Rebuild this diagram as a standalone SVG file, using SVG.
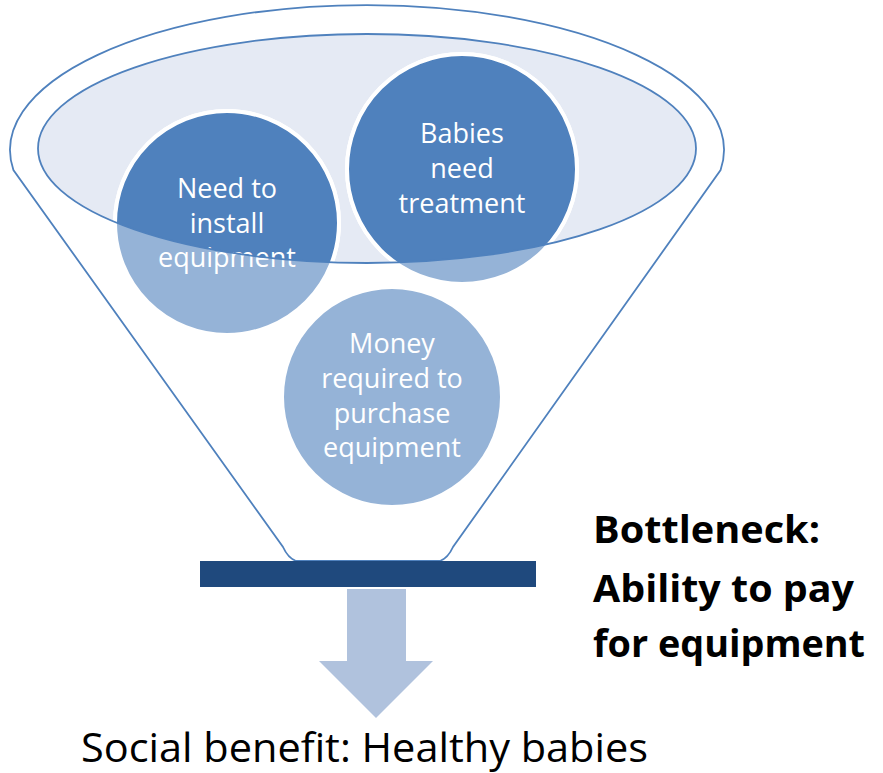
<svg xmlns="http://www.w3.org/2000/svg" width="883" height="773" viewBox="0 0 883 773">
<style>
.outline{fill:#ffffff;stroke:#4F81BD;stroke-width:1.8}
.inner{fill:#E5EAF4;stroke:none}
.innerStroke{fill:none;stroke:#4F81BD;stroke-width:1.8}
.light{fill:#95B3D7;stroke:#ffffff;stroke-width:4}
.dark{fill:#4F81BD;stroke:#ffffff;stroke-width:4}
.ctext{font-family:"Open Sans","DejaVu Sans",sans-serif;font-size:27px;fill:#ffffff;text-anchor:middle}
.btext{font-family:"Open Sans","DejaVu Sans",sans-serif;font-size:38px;font-weight:bold;fill:#000000}
.stext{font-family:"Open Sans","DejaVu Sans",sans-serif;font-size:40px;fill:#000000}
</style>
<defs>
<clipPath id="ellClip"><ellipse cx="367" cy="148.5" rx="329" ry="114.5"/></clipPath>
</defs>
<rect width="883" height="773" fill="#ffffff"/>
<g id="funnel">
<path class="outline" d="M13.4,170 A357,145 0 1 1 720.6,170 L453,547 Q448,558 440,561 L296,561 Q288,558 283,547 Z"/>
<ellipse class="inner" cx="367" cy="148.5" rx="329" ry="114.5"/>
</g>
<g id="node-need">
<circle class="light" cx="227" cy="223" r="112"/>
<circle class="dark" cx="227" cy="223" r="112" clip-path="url(#ellClip)"/>
<text class="ctext" x="227" y="198">Need to</text>
<text class="ctext" x="227" y="233">install</text>
<text class="ctext" x="227" y="267">equipment</text>
</g>
<g id="node-babies">
<circle class="light" cx="462" cy="169" r="115"/>
<circle class="dark" cx="462" cy="169" r="115" clip-path="url(#ellClip)"/>
<text class="ctext" x="462" y="143">Babies</text>
<text class="ctext" x="462" y="178">need</text>
<text class="ctext" x="462" y="213">treatment</text>
</g>
<g id="node-money">
<circle class="light" cx="392" cy="397" r="110"/>
<text class="ctext" x="392" y="353">Money</text>
<text class="ctext" x="392" y="388">required to</text>
<text class="ctext" x="392" y="423">purchase</text>
<text class="ctext" x="392" y="457">equipment</text>
</g>
<g id="funnel-rim">
<ellipse class="innerStroke" cx="367" cy="148.5" rx="329" ry="114.5"/>
</g>
<g id="bottleneck-bar">
<rect x="200" y="561" width="336" height="26" fill="#1F497D"/>
</g>
<g id="connectors">
<path d="M347,589 L406,589 L406,661 L433,661 L376,718 L319,661 L347,661 Z" fill="#B0C2DD"/>
</g>
<g id="label-bottleneck">
<text class="btext" x="593" y="543" textLength="227" lengthAdjust="spacingAndGlyphs">Bottleneck:</text>
<text class="btext" x="593" y="602" textLength="261" lengthAdjust="spacingAndGlyphs">Ability to pay</text>
<text class="btext" x="593" y="657" textLength="272" lengthAdjust="spacingAndGlyphs">for equipment</text>
</g>
<g id="label-benefit">
<text class="stext" x="81" y="762" textLength="567" lengthAdjust="spacingAndGlyphs">Social benefit: Healthy babies</text>
</g>
</svg>
